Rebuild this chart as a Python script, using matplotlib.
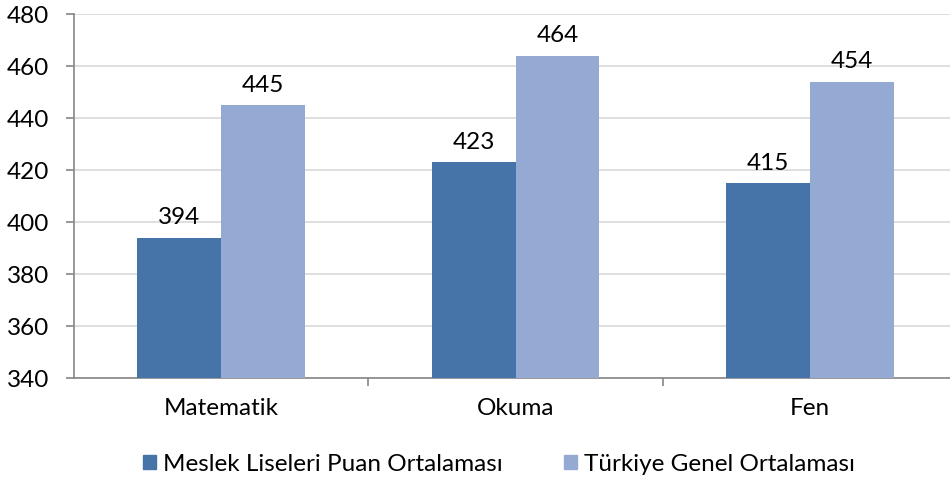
import matplotlib
matplotlib.use("Agg")
import matplotlib.pyplot as plt
import numpy as np
from matplotlib.ticker import FixedLocator, NullFormatter
from matplotlib.patches import Patch

categories = ["Matematik", "Okuma", "Fen"]
meslek = [394, 423, 415]
turkiye = [445, 464, 454]
series_names = ["Meslek Liseleri Puan Ortalaması", "Türkiye Genel Ortalaması"]
yticks = [340, 360, 380, 400, 420, 440, 460, 480]

c1 = "#4674A8"
c2 = "#95AAD2"

plt.rcParams['font.family'] = ['Lato', 'DejaVu Sans']
fs = 17.5

fig = plt.figure(figsize=(9.5, 4.81), dpi=100)
ax = fig.add_axes([74/950, 1-379/481, (957-74)/950, (379-15)/481])

x = np.arange(len(categories))
w = 0.285
b1 = ax.bar(x - w/2, meslek, w, color=c1, zorder=3)
b2 = ax.bar(x + w/2, turkiye, w, color=c2, zorder=3)
for bars, vals in ((b1, meslek), (b2, turkiye)):
    for r, v in zip(bars, vals):
        ax.text(r.get_x() + r.get_width()/2, v + 4, str(v), ha='center', va='bottom',
                fontsize=fs, color='black')

ax.set_xlim(-0.5, len(categories) - 0.5)
ax.set_ylim(340, 480)
ax.set_yticks(yticks)
ax.set_yticklabels([str(t) for t in yticks], fontsize=fs)
ax.yaxis.grid(True, color='#D9D9D9', linewidth=1.2, zorder=0)
ax.set_axisbelow(True)

ax.set_xticks(x)
ax.set_xticklabels(categories, fontsize=fs)
ax.tick_params(axis='x', which='major', length=0, pad=14)
ax.xaxis.set_minor_locator(FixedLocator([0.5, 1.5, 2.5]))
ax.xaxis.set_minor_formatter(NullFormatter())
ax.tick_params(axis='x', which='minor', length=6, color='#868686', width=1.2)
ax.tick_params(axis='y', length=6, color='#868686', width=1.2, pad=12)

for s in ['top', 'right']:
    ax.spines[s].set_visible(False)
for s in ['left', 'bottom']:
    ax.spines[s].set_color('#868686')
    ax.spines[s].set_linewidth(1.2)

handles = [Patch(color=c1, label=series_names[0]), Patch(color=c2, label=series_names[1])]
fig.legend(handles=handles, loc='center', bbox_to_anchor=(499/950, 1-465/481), ncol=2,
           frameon=False, fontsize=fs, handlelength=0.55, handleheight=0.55,
           handletextpad=0.3, columnspacing=2.5)

fig.savefig("out.png", dpi=100)
